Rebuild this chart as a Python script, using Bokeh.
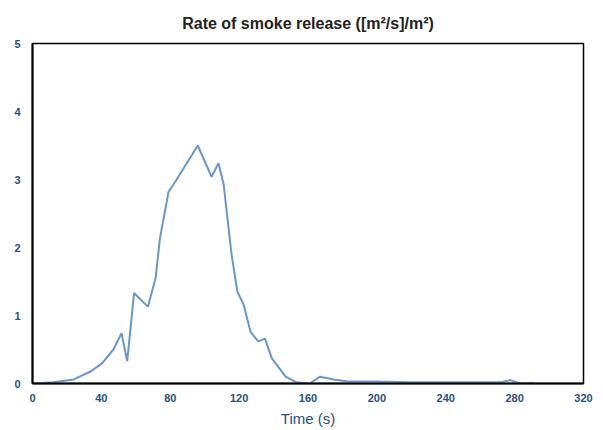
from bokeh.plotting import figure
from bokeh.models import FixedTicker, Range1d
from bokeh.embed import file_html
from bokeh.resources import INLINE

# time (s) and rate of smoke release
time_s = [0, 12, 24, 34, 40.5, 47, 51.7, 55, 59, 67, 71.5, 74, 79, 83, 96,
          104, 108, 111, 115.6, 119, 122.6, 126.6, 131, 135, 139, 147, 153,
          161, 167, 175, 183, 200, 220, 240, 260, 272, 277.5, 283, 291]
rsr = [0.0, 0.02, 0.06, 0.18, 0.3, 0.5, 0.74, 0.33, 1.33, 1.13, 1.55, 2.13,
       2.82, 2.97, 3.5, 3.04, 3.24, 2.93, 1.9, 1.35, 1.16, 0.76, 0.62, 0.66,
       0.37, 0.1, 0.02, 0.0, 0.1, 0.06, 0.03, 0.03, 0.02, 0.02, 0.02, 0.02,
       0.05, 0.0, 0.01]

x_ticks = [0, 40, 80, 120, 160, 200, 240, 280, 320]
y_ticks = [0, 1, 2, 3, 4, 5]

p = figure(
    width=598,
    height=425,
    frame_width=551,
    frame_height=340,
    min_border_left=32,
    min_border_top=42,
    min_border_right=15,
    title="Rate of smoke release ([m²/s]/m²)",
    x_axis_label="Time (s)",
    x_range=Range1d(0, 320),
    y_range=Range1d(0, 5),
    toolbar_location=None,
    output_backend="svg")

p.line(x=time_s, y=rsr, line_width=2, line_color="#5b8cc0", line_alpha=0.9)

p.title.align = "center"
p.title.text_font = "Liberation Sans"
p.title.text_font_size = "16px"
p.title.text_font_style = "bold"
p.title.text_color = "#222222"
p.title.standoff = 24

p.xgrid.visible = False
p.ygrid.visible = False
p.outline_line_color = "black"
p.outline_line_width = 1.5

p.xaxis.ticker = FixedTicker(ticks=x_ticks)
p.yaxis.ticker = FixedTicker(ticks=y_ticks)
for ax in (p.xaxis, p.yaxis):
    ax.major_tick_line_color = None
    ax.minor_tick_line_color = None
    ax.axis_line_color = "black"
    ax.axis_line_width = 2
    ax.major_label_text_font = "Liberation Sans"
    ax.major_label_text_font_size = "11px"
    ax.major_label_text_font_style = "bold"
    ax.major_label_text_color = "#2a4f80"
p.xaxis.axis_label_text_font = "Liberation Sans"
p.xaxis.axis_label_text_font_size = "15px"
p.xaxis.axis_label_text_font_style = "normal"
p.xaxis.axis_label_text_color = "#2a4f80"
p.xaxis.axis_label_standoff = 5
p.xaxis.major_label_standoff = 4
p.yaxis.major_label_standoff = 6

open("out.html", "w").write(file_html(p, INLINE))
